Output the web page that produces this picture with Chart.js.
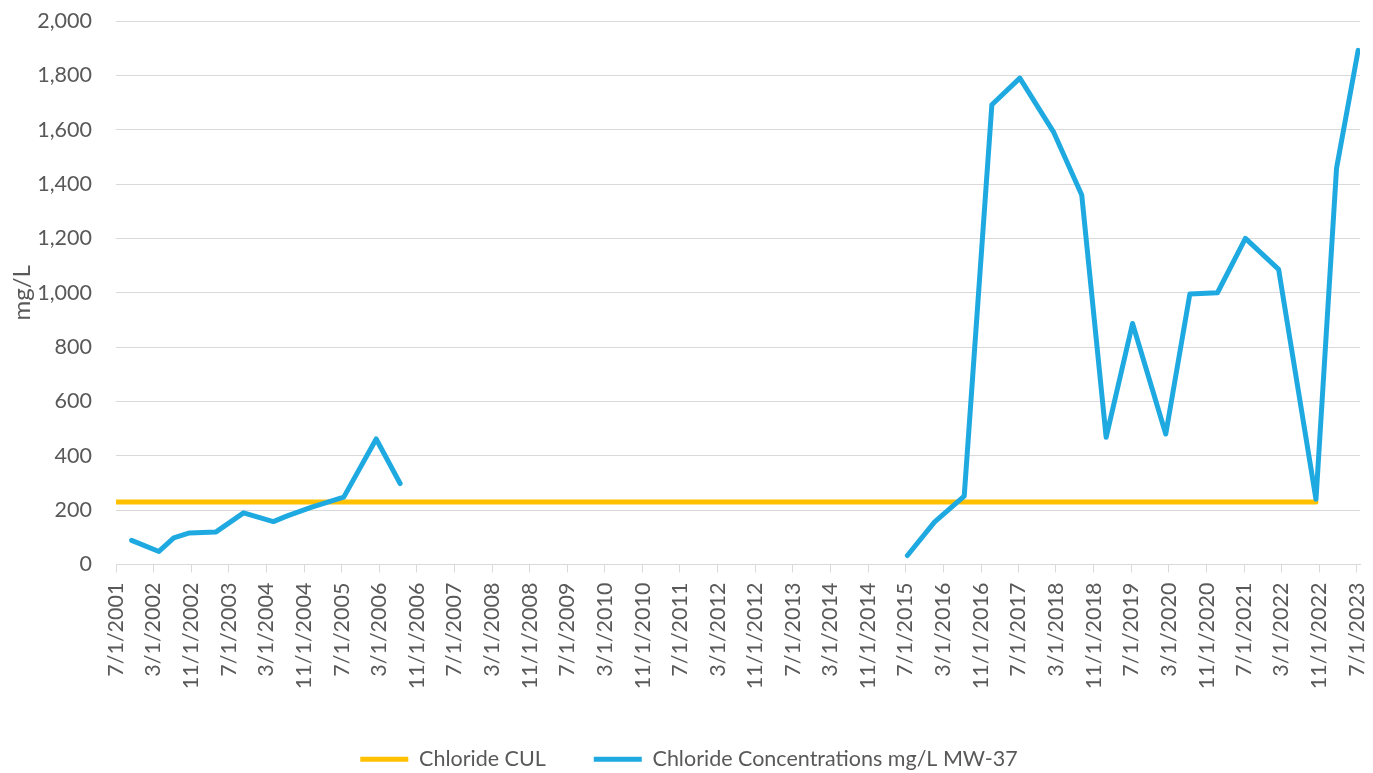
<!DOCTYPE html>
<html>
<head>
<meta charset="utf-8">
<script src="https://cdn.jsdelivr.net/npm/chart.js@4.4.1/dist/chart.umd.min.js"></script>
<style>
  html, body { margin: 0; padding: 0; background: #ffffff; }
  #wrap { width: 1373px; height: 773px; }
</style>
</head>
<body>
<div id="wrap"><canvas id="chart" width="1373" height="773"></canvas></div>
<script>
// Sampling dates and chloride results for MW-37 (mg/L); null marks the gap in sampling
const sampleDates = [
  '2001-10-10', '2002-04-05', '2002-07-10', '2002-10-20', '2003-04-10', '2003-10-05',
  '2004-04-15', '2004-07-10', '2004-12-15', '2005-07-15', '2006-02-10', '2006-07-15',
  '2010-01-01',
  '2015-07-13', '2016-01-04', '2016-07-15', '2017-01-10', '2017-07-10', '2018-02-15',
  '2018-08-15', '2019-01-20', '2019-07-10', '2020-02-10', '2020-07-15', '2021-01-10',
  '2021-07-10', '2022-02-10', '2022-10-10', '2023-02-20', '2023-07-10'
];
const chlorideValues = [
  89, 48, 98, 116, 120, 190,
  158, 178, 210, 248, 462, 298,
  null,
  33, 156, 252, 1692, 1790, 1590,
  1360, 468, 887, 480, 995, 1000,
  1200, 1086, 240, 1458, 1892
];

// Cleanup level for chloride
const culDates = ['2001-07-01', '2022-10-10'];
const culValues = [230, 230];

// Date-axis labels, every 8 months
const tickLabels = [
  '7/1/2001', '3/1/2002', '11/1/2002', '7/1/2003', '3/1/2004', '11/1/2004',
  '7/1/2005', '3/1/2006', '11/1/2006', '7/1/2007', '3/1/2008', '11/1/2008',
  '7/1/2009', '3/1/2010', '11/1/2010', '7/1/2011', '3/1/2012', '11/1/2012',
  '7/1/2013', '3/1/2014', '11/1/2014', '7/1/2015', '3/1/2016', '11/1/2016',
  '7/1/2017', '3/1/2018', '11/1/2018', '7/1/2019', '3/1/2020', '11/1/2020',
  '7/1/2021', '3/1/2022', '11/1/2022', '7/1/2023'
];

const yTicks = { min: 0, max: 2000, step: 200 };

// ---- helpers: dates become day numbers counted from the first axis date ----
const DAY_MS = 86400000;
const ORIGIN = Date.UTC(2001, 6, 1);
function isoToDay(s) {
  const [y, m, d] = s.split('-').map(Number);
  return (Date.UTC(y, m - 1, d) - ORIGIN) / DAY_MS;
}
function mdyToDay(s) {
  const [m, d, y] = s.split('/').map(Number);
  return (Date.UTC(y, m - 1, d) - ORIGIN) / DAY_MS;
}
const tickDays = tickLabels.map(mdyToDay);
const xMax = isoToDay('2023-07-22');

const chlorideSeries = sampleDates.map((d, i) => ({ x: isoToDay(d), y: chlorideValues[i] }));
const culSeries = culDates.map((d, i) => ({ x: isoToDay(d), y: culValues[i] }));

const FONT = 'Lato, "Open Sans", sans-serif';
const TEXT = '#595959';
const GRID = '#d9d9d9';

new Chart(document.getElementById('chart'), {
  type: 'line',
  data: {
    datasets: [
      {
        label: 'Chloride CUL',
        data: culSeries,
        borderColor: '#ffc000',
        backgroundColor: '#ffc000',
        borderWidth: 5,
        pointRadius: 0,
        borderCapStyle: 'round',
        borderJoinStyle: 'round',
        tension: 0,
        order: 2
      },
      {
        label: 'Chloride Concentrations mg/L MW-37',
        data: chlorideSeries,
        borderColor: '#1eaae1',
        backgroundColor: '#1eaae1',
        borderWidth: 5,
        pointRadius: 0,
        borderCapStyle: 'round',
        borderJoinStyle: 'round',
        spanGaps: false,
        tension: 0,
        order: 1
      }
    ]
  },
  options: {
    responsive: false,
    animation: false,
    devicePixelRatio: 1,
    layout: { padding: { top: 21, right: 13, bottom: -7, left: 18 } },
    plugins: {
      tooltip: { enabled: false },
      legend: {
        position: 'bottom',
        labels: {
          usePointStyle: true,
          pointStyle: 'line',
          pointStyleWidth: 48,
          boxHeight: 22,
          padding: 48,
          color: TEXT,
          font: { family: FONT, size: 21.5 },
          sort: (a, b) => a.datasetIndex - b.datasetIndex
        }
      }
    },
    scales: {
      x: {
        type: 'linear',
        min: 0,
        max: xMax,
        afterBuildTicks: (scale) => { scale.ticks = tickDays.map(v => ({ value: v })); },
        afterFit: (scale) => {
          scale.height = 136;
          scale.paddingLeft = 0;
          scale.paddingRight = 0;
        },
        ticks: {
          autoSkip: false,
          minRotation: 90,
          maxRotation: 90,
          padding: 10,
          color: TEXT,
          font: { family: FONT, size: 21.5 },
          callback: (value, index) => tickLabels[index]
        },
        grid: { drawOnChartArea: false, drawTicks: true, tickLength: 8, color: GRID, lineWidth: 1 },
        border: { display: true, color: GRID, width: 1 }
      },
      y: {
        min: yTicks.min,
        max: yTicks.max,
        afterFit: (scale) => {
          scale.width = 98;
          scale.paddingTop = 0;
          scale.paddingBottom = 0;
        },
        ticks: {
          stepSize: yTicks.step,
          padding: 24,
          color: TEXT,
          font: { family: FONT, size: 21.5 },
          callback: (v) => v.toLocaleString('en-US')
        },
        grid: { color: GRID, lineWidth: 1, drawTicks: false },
        border: { display: false },
        title: {
          display: true,
          text: 'mg/L',
          color: TEXT,
          font: { family: FONT, size: 24 },
          padding: { top: -10, bottom: 0 }
        }
      }
    }
  }
});
</script>
</body>
</html>
